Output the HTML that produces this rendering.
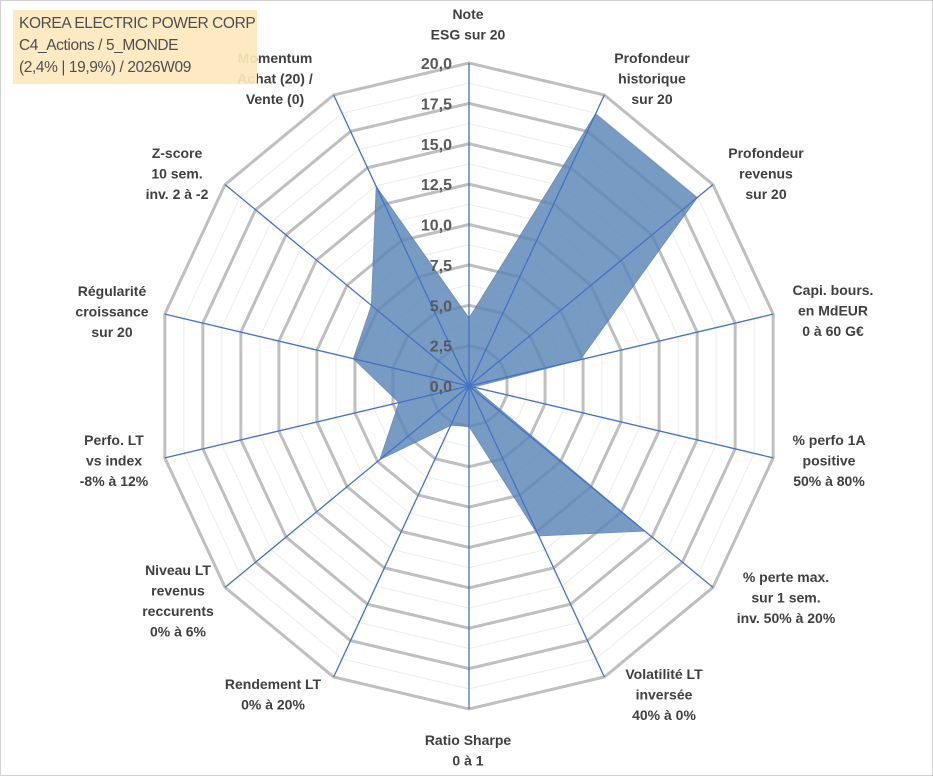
<!DOCTYPE html>
<html><head><meta charset="utf-8"><style>
html,body{margin:0;padding:0;background:#fff}
#wrap{position:relative;width:933px;height:776px;overflow:hidden}
svg text{font-family:"Liberation Sans",sans-serif}
#title{position:absolute;left:13px;top:10px;width:244px;height:74px;background:#fde9bd;opacity:.92;color:#404040;font-family:"Liberation Sans",sans-serif;font-size:15.5px;letter-spacing:-0.4px;white-space:nowrap;line-height:22px;padding:3px 0 0 6px;box-sizing:border-box}
</style></head><body>
<div id="wrap">
<svg id="chart" width="933" height="776">
<rect x="0.5" y="0.5" width="932" height="775" fill="#fff" stroke="#d0d0d0"/>
<g id="grid"></g><g id="series"></g><g id="axes"></g><g id="ticks"></g><g id="labels"></g>
</svg>
<div id="title">KOREA ELECTRIC POWER CORP<br>C4_Actions / 5_MONDE<br>(2,4% | 19,9%) / 2026W09</div>
</div>
<script>
const categories=[["Note","ESG sur 20"],["Profondeur","historique","sur 20"],["Profondeur","revenus","sur 20"],["Capi. bours.","en MdEUR","0 à 60 G€"],["% perfo 1A","positive","50% à 80%"],["% perte max.","sur 1 sem.","inv. 50% à 20%"],["Volatilité LT","inversée","40% à 0%"],["Ratio Sharpe","0 à 1"],["Rendement LT","0% à 20%"],["Niveau LT","revenus","reccurents","0% à 6%"],["Perfo. LT","vs index","-8% à 12%"],["Régularité","croissance","sur 20"],["Z-score","10 sem.","inv. 2 à -2"],["Momentum","Achat (20) /","Vente (0)"]];
const values=[4.2,18.7,18.7,7.3,0.3,14.4,10.3,2.5,2.7,7.3,4.6,7.6,8.0,13.7];
const tickLabels=["0,0","2,5","5,0","7,5","10,0","12,5","15,0","17,5","20,0"];
const tickValues=[0,2.5,5,7.5,10,12.5,15,17.5,20];
const labelPos=[[468,14],[652,58],[766,153],[833,290],[829,440],[786,577],[664,674],[468,740],[273,684],[178,570],[114,440],[112,291],[177,153],[275,58]];
const CX=469,CY=386,RX=312,RY=323,MAX=20,N=categories.length;
const NS="http://www.w3.org/2000/svg";
function ang(i){return i*2*Math.PI/N;}
function pt(i,v){const f=v/MAX,a=ang(i);return [CX+f*RX*Math.sin(a),CY-f*RY*Math.cos(a)];}
function mk(t,attrs,parent){const e=document.createElementNS(NS,t);for(const k in attrs)e.setAttribute(k,attrs[k]);parent.appendChild(e);return e;}
const grid=document.getElementById('grid');
for(let k=1;k<=16;k++){const v=k*1.25;const pts=[];for(let i=0;i<N;i++)pts.push(pt(i,v).join(','));
 const major=k%2===0;
 const g=mk('polygon',{points:pts.join(' '),fill:'none',stroke:major?'#bfbfbf':'#ececec','stroke-width':major?3:1},grid);
 
 }
const series=document.getElementById('series');
const sp=values.map((v,i)=>pt(i,v).join(',')).join(' ');
const poly=mk('polygon',{points:sp,fill:'#5b86b8',opacity:'0.82',stroke:'#4f7bb0','stroke-width':1},series);


const axes=document.getElementById('axes');
for(let i=0;i<N;i++){const p=pt(i,MAX);const l=mk('line',{x1:CX,y1:CY,x2:p[0],y2:p[1],stroke:'#4472c4','stroke-width':1.3},axes);
 
 }
const ticks=document.getElementById('ticks');
tickValues.forEach((v,k)=>{const t=mk('text',{x:CX-17,y:CY-v/MAX*RY+6,'text-anchor':'end','font-size':16,'font-weight':'bold',fill:'#595959'},ticks);t.textContent=tickLabels[k];
 
 });
const labels=document.getElementById('labels');
categories.forEach((c,i)=>{const [x,y]=labelPos[i];const t=mk('text',{x:x,y:y+5,'text-anchor':'middle','font-size':14,'font-weight':'bold',fill:'#404040'},labels);
 
 
 c.forEach((line,j)=>{const s=mk('tspan',{x:x,dy:j?20.5:0},t);s.textContent=line;});});
</script>
</body></html>
